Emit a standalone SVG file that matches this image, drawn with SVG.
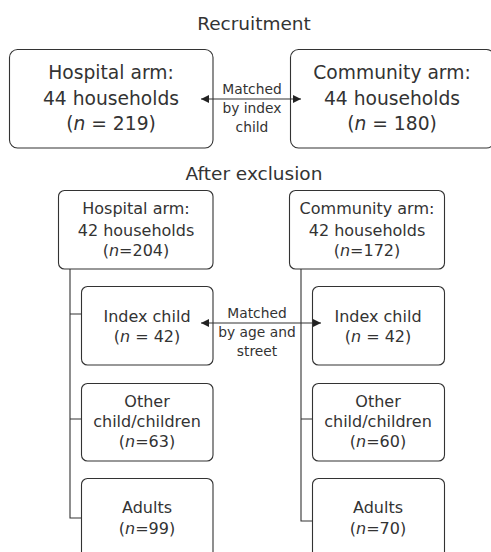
<svg xmlns="http://www.w3.org/2000/svg" width="491" height="552" viewBox="0 0 491 552">
<style>
text{font-family:"DejaVu Sans","Noto Sans",sans-serif;fill:#333;text-anchor:middle}
.t{font-size:18.5px}
.b1{font-size:18.7px}
.b2{font-size:16px}
.m{font-size:13.8px}
.box{fill:#fff;stroke:#333;stroke-width:1.1}
.ln{fill:none;stroke:#333;stroke-width:1.1}
.i{font-style:italic}
</style>
<defs>
<marker id="ah" viewBox="0 0 10 10" refX="10" refY="5" markerWidth="10" markerHeight="8" markerUnits="userSpaceOnUse" orient="auto-start-reverse">
<path d="M0,0 L10,5 L0,10 z" fill="#222"/>
</marker>
</defs>
<text class="t" x="254" y="30">Recruitment</text>
<text class="t" x="254" y="180">After exclusion</text>
<g id="match1">
<text class="m" x="252" y="94">Matched</text>
<text class="m" x="252" y="113">by index</text>
<text class="m" x="252" y="132">child</text>
</g>
<g id="match2">
<text class="m" x="257" y="318">Matched</text>
<text class="m" x="257" y="337">by age and</text>
<text class="m" x="257" y="356">street</text>
</g>
<g id="hosp-recruit">
<rect class="box" x="9.5" y="49.5" width="203.5" height="98.5" rx="8"/>
<text class="b1" x="111" y="79">Hospital arm:</text>
<text class="b1" x="111" y="105">44 households</text>
<text class="b1" x="111" y="130">(<tspan class="i">n</tspan> = 219)</text>
</g>
<g id="comm-recruit">
<rect class="box" x="290.5" y="49.5" width="204" height="98.5" rx="8"/>
<text class="b1" x="392" y="79">Community arm:</text>
<text class="b1" x="392" y="105">44 households</text>
<text class="b1" x="392" y="130">(<tspan class="i">n</tspan> = 180)</text>
</g>
<g id="hosp-excl">
<rect class="box" x="58.5" y="190.5" width="154.5" height="78.5" rx="6"/>
<text class="b2" x="136" y="214">Hospital arm:</text>
<text class="b2" x="136" y="236">42 households</text>
<text class="b2" x="136" y="256">(<tspan class="i">n</tspan>=204)</text>
</g>
<g id="comm-excl">
<rect class="box" x="289.5" y="190.5" width="155" height="78.5" rx="6"/>
<text class="b2" x="367" y="214">Community arm:</text>
<text class="b2" x="367" y="236">42 households</text>
<text class="b2" x="367" y="256">(<tspan class="i">n</tspan>=172)</text>
</g>
<g id="hosp-index">
<rect class="box" x="81.5" y="286.5" width="131.5" height="78.5" rx="6"/>
<text class="b2" x="147" y="322">Index child</text>
<text class="b2" x="147" y="342">(<tspan class="i">n</tspan> = 42)</text>
</g>
<g id="hosp-other">
<rect class="box" x="81.5" y="383.5" width="131.5" height="77.5" rx="6"/>
<text class="b2" x="147" y="407">Other</text>
<text class="b2" x="147" y="427">child/children</text>
<text class="b2" x="147" y="447">(<tspan class="i">n</tspan>=63)</text>
</g>
<g id="hosp-adults">
<rect class="box" x="81.5" y="478.5" width="131.5" height="90" rx="6"/>
<text class="b2" x="147" y="513">Adults</text>
<text class="b2" x="147" y="534">(<tspan class="i">n</tspan>=99)</text>
</g>
<g id="comm-index">
<rect class="box" x="312.5" y="286.5" width="132" height="78.5" rx="6"/>
<text class="b2" x="378" y="322">Index child</text>
<text class="b2" x="378" y="342">(<tspan class="i">n</tspan> = 42)</text>
</g>
<g id="comm-other">
<rect class="box" x="312.5" y="383.5" width="132" height="77.5" rx="6"/>
<text class="b2" x="378" y="407">Other</text>
<text class="b2" x="378" y="427">child/children</text>
<text class="b2" x="378" y="447">(<tspan class="i">n</tspan>=60)</text>
</g>
<g id="comm-adults">
<rect class="box" x="312.5" y="478.5" width="132" height="90" rx="6"/>
<text class="b2" x="378" y="513">Adults</text>
<text class="b2" x="378" y="534">(<tspan class="i">n</tspan>=70)</text>
</g>
<g id="connectors">
<path class="ln" d="M70,269 V518 H81 M70,314 H81 M70,419 H81"/>
<path class="ln" d="M301,269 V521 H312 M301,419 H312"/>
<line class="ln" x1="201" y1="99" x2="301" y2="99" marker-start="url(#ah)" marker-end="url(#ah)"/>
<line class="ln" x1="201" y1="323" x2="321" y2="323" marker-start="url(#ah)" marker-end="url(#ah)"/>
</g>
</svg>
